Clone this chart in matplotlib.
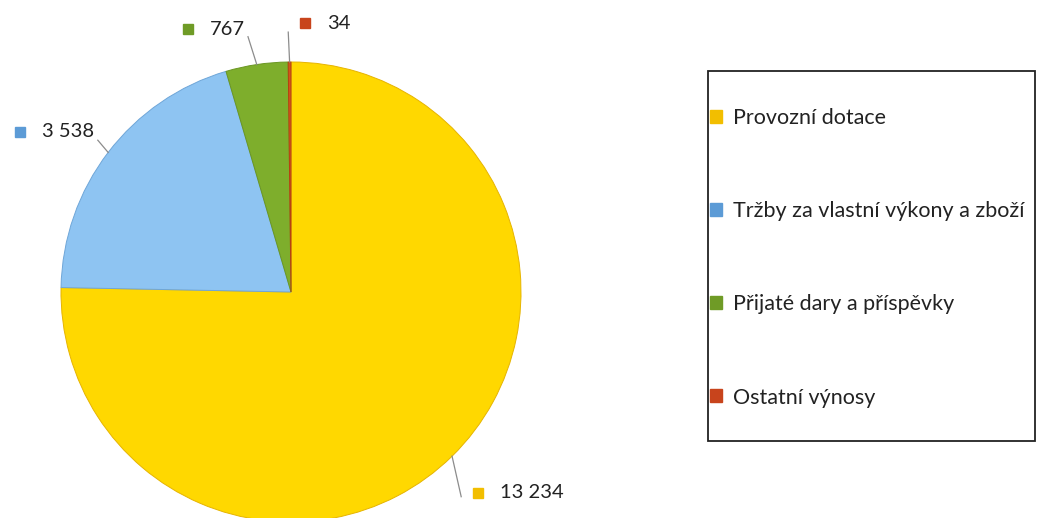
import matplotlib
matplotlib.use("Agg")
import matplotlib.pyplot as plt
import matplotlib.patches as mpatches
import numpy as np

# Data
categories = ["Provozní dotace", "Tržby za vlastní výkony a zboží",
              "Přijaté dary a příspěvky", "Ostatní výnosy"]
values = [13234, 3538, 767, 34]
value_labels = ["13 234", "3 538", "767", "34"]

# Styles
wedge_colors = ["#FFD800", "#8EC4F2", "#7EAE2C", "#D2561A"]
marker_colors = ["#F2BE00", "#5C9BD6", "#6F9B26", "#C8441C"]
FONT = "Lato"

W, H = 1039, 518
fig = plt.figure(figsize=(W / 100, H / 100), dpi=100)
fig.patch.set_facecolor("white")

# Pie axes: center (291, 292) px, radius 230 px
cx, cy, R = 291, 292, 230
ax = fig.add_axes([(cx - R) / W, (H - cy - R) / H, 2 * R / W, 2 * R / H])

wedges, _ = ax.pie(values, colors=wedge_colors, startangle=90, counterclock=False,
                   radius=1.0, center=(0, 0),
                   wedgeprops=dict(edgecolor="#E8E8E8", linewidth=0.8))
ax.set_xlim(-1, 1)
ax.set_ylim(-1, 1)
ax.set_aspect("equal")
ax.axis("off")
for w, ec in zip(wedges, ["#E6B400", "#6FA6D8", "#6A9622", "#B84010"]):
    w.set_edgecolor(ec)
    w.set_linewidth(0.7)
    w.set_clip_on(False)

layout = [
    dict(lead=(0.74, -0.89), mark=(0.815, -0.872)),
    dict(lead=(-0.84, 0.66), mark=(-1.178, 0.697)),
    dict(lead=(-0.187, 1.11), mark=(-0.447, 1.142)),
    dict(lead=(-0.012, 1.13), mark=(0.063, 1.168)),
]
for w, lab, mc, lay in zip(wedges, value_labels, marker_colors, layout):
    mid = np.deg2rad((w.theta1 + w.theta2) / 2)
    ex, ey = np.cos(mid), np.sin(mid)
    lx, ly = lay["lead"]
    ax.plot([ex, lx], [ey, ly], color="#8C8C8C", lw=0.9, clip_on=False, zorder=1)
    mx, my = lay["mark"]
    ax.plot([mx], [my], marker="s", ms=7.5, color=mc, mec=mc, clip_on=False)
    ax.text(mx + 0.095, my, lab, fontsize=14.5, family=FONT, color="#222222",
            ha="left", va="center", clip_on=False)

# Legend frame
lx0, lx1, ly0, ly1 = 708, 1035, 71, 441
fig.patches.append(mpatches.Rectangle((lx0 / W, 1 - ly1 / H), (lx1 - lx0) / W, (ly1 - ly0) / H,
                                      transform=fig.transFigure, fill=False,
                                      edgecolor="#222222", linewidth=1.3))
handles = [mpatches.Patch(facecolor=c, edgecolor=c) for c in marker_colors]
leg = fig.legend(handles, categories, loc="upper left",
                 bbox_to_anchor=(710 / W, 1 - 108 / H),
                 frameon=False, prop=dict(family=FONT, size=15.5),
                 handlelength=0.55, handleheight=0.55, handletextpad=0.5,
                 labelspacing=3.4, borderpad=0, borderaxespad=0)
for t in leg.get_texts():
    t.set_color("#222222")

fig.savefig("out.png", dpi=100, facecolor="white")
